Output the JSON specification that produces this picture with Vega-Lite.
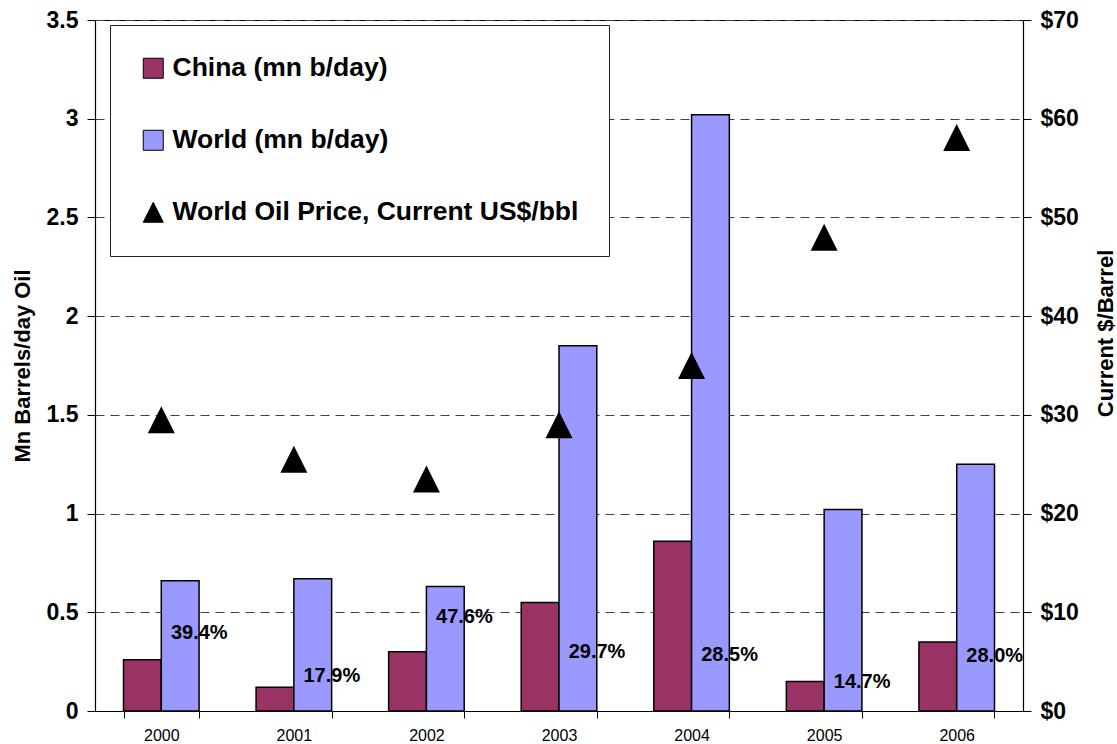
{
  "$schema": "https://vega.github.io/schema/vega-lite/v6.json",
  "width": 928,
  "height": 691,
  "autosize": {"type": "none"},
  "padding": {"left": 95, "top": 20, "right": 94, "bottom": 33},
  "config": {
    "font": "Liberation Sans",
    "view": {"stroke": "black", "strokeWidth": 1},
    "axis": {"domainColor": "black", "tickColor": "black", "labelColor": "black", "titleColor": "black", "domainWidth": 1.2, "tickWidth": 1},
    "legend": {
      "orient": "none",
      "legendX": 15,
      "legendY": 5,
      "fillColor": "white",
      "strokeColor": "#222",
      "strokeWidth": 1,
      "padding": 30,
      "rowPadding": 45,
      "labelFontSize": 26.5,
      "labelFontWeight": "bold",
      "labelColor": "black",
      "labelOffset": 6,
      "labelLimit": 600,
      "symbolSize": 400,
      "symbolStrokeColor": "black",
      "symbolStrokeWidth": 1,
      "title": null
    }
  },
  "layer": [
    {
      "layer": [
        {
          "data": {"values": [
            {"year": "2000", "series": "China (mn b/day)", "value": 0.26},
            {"year": "2000", "series": "World (mn b/day)", "value": 0.66},
            {"year": "2001", "series": "China (mn b/day)", "value": 0.12},
            {"year": "2001", "series": "World (mn b/day)", "value": 0.67},
            {"year": "2002", "series": "China (mn b/day)", "value": 0.30},
            {"year": "2002", "series": "World (mn b/day)", "value": 0.63},
            {"year": "2003", "series": "China (mn b/day)", "value": 0.55},
            {"year": "2003", "series": "World (mn b/day)", "value": 1.85},
            {"year": "2004", "series": "China (mn b/day)", "value": 0.86},
            {"year": "2004", "series": "World (mn b/day)", "value": 3.02},
            {"year": "2005", "series": "China (mn b/day)", "value": 0.15},
            {"year": "2005", "series": "World (mn b/day)", "value": 1.02},
            {"year": "2006", "series": "China (mn b/day)", "value": 0.35},
            {"year": "2006", "series": "World (mn b/day)", "value": 1.25}
          ]},
          "mark": {"type": "bar", "stroke": "black", "strokeWidth": 1.5},
          "encoding": {
            "x": {
              "field": "year", "type": "nominal", "title": null,
              "scale": {"paddingInner": 0.43, "paddingOuter": 0.215},
              "axis": {"labelAngle": 0, "labelFontSize": 16, "labelPadding": 9, "tickBand": "extent", "tickSize": 7, "domain": true}
            },
            "xOffset": {"field": "series", "type": "nominal", "scale": {"domain": ["China (mn b/day)", "World (mn b/day)"], "paddingInner": 0, "paddingOuter": 0}},
            "y": {
              "field": "value", "type": "quantitative",
              "scale": {"domain": [0, 3.5], "nice": false},
              "axis": {
                "orient": "left",
                "title": "Mn Barrels/day Oil",
                "titleFontSize": 22,
                "titleFontWeight": "bold",
                "titlePadding": 12,
                "values": [0, 0.5, 1, 1.5, 2, 2.5, 3, 3.5],
                "format": "~g",
                "labelFontSize": 23,
                "labelFontWeight": "bold",
                "labelPadding": 9,
                "tickSize": 8,
                "grid": true,
                "gridColor": "#404040",
                "gridDash": [9, 6],
                "gridWidth": 1
              }
            },
            "color": {
              "field": "series", "type": "nominal",
              "scale": {"domain": ["China (mn b/day)", "World (mn b/day)", "World Oil Price, Current US$/bbl"], "range": ["#993366", "#9999FF", "#000000"]}
            }
          }
        },
        {
          "data": {"values": [
            {"year": "2000", "label": "39.4%", "share": 0.394},
            {"year": "2001", "label": "17.9%", "share": 0.179},
            {"year": "2002", "label": "47.6%", "share": 0.476},
            {"year": "2003", "label": "29.7%", "share": 0.297},
            {"year": "2004", "label": "28.5%", "share": 0.285},
            {"year": "2005", "label": "14.7%", "share": 0.147},
            {"year": "2006", "label": "28.0%", "share": 0.280}
          ]},
          "mark": {"type": "text", "dx": 38, "align": "center", "baseline": "middle", "fontSize": 20, "fontWeight": "bold", "color": "black"},
          "encoding": {
            "x": {"field": "year", "type": "nominal"},
            "y": {"field": "share", "type": "quantitative", "scale": {"domain": [0, 3.5], "nice": false}},
            "text": {"field": "label"}
          }
        }
      ]
    },
    {
      "data": {"values": [
        {"year": "2000", "series": "World Oil Price, Current US$/bbl", "price": 29.5},
        {"year": "2001", "series": "World Oil Price, Current US$/bbl", "price": 25.5},
        {"year": "2002", "series": "World Oil Price, Current US$/bbl", "price": 23.5},
        {"year": "2003", "series": "World Oil Price, Current US$/bbl", "price": 29.0},
        {"year": "2004", "series": "World Oil Price, Current US$/bbl", "price": 35.0},
        {"year": "2005", "series": "World Oil Price, Current US$/bbl", "price": 48.0},
        {"year": "2006", "series": "World Oil Price, Current US$/bbl", "price": 58.1}
      ]},
      "mark": {"type": "point", "filled": true, "size": 729, "opacity": 1},
      "encoding": {
        "x": {"field": "year", "type": "nominal"},
        "y": {
          "field": "price", "type": "quantitative",
          "scale": {"domain": [0, 70], "nice": false},
          "axis": {
            "orient": "right",
            "title": "Current $/Barrel",
            "titleFontSize": 22,
            "titleFontWeight": "bold",
            "titleAngle": 270,
            "titleBaseline": "middle",
            "titleAlign": "center",
            "titleX": 82,
            "titleY": 313,
            "values": [0, 10, 20, 30, 40, 50, 60, 70],
            "labelExpr": "'$' + datum.value",
            "labelFontSize": 23,
            "labelFontWeight": "bold",
            "labelPadding": 9,
            "tickSize": 8,
            "grid": false
          }
        },
        "color": {
          "field": "series", "type": "nominal",
          "scale": {"domain": ["China (mn b/day)", "World (mn b/day)", "World Oil Price, Current US$/bbl"], "range": ["#993366", "#9999FF", "#000000"]}
        },
        "shape": {
          "field": "series", "type": "nominal",
          "scale": {"domain": ["China (mn b/day)", "World (mn b/day)", "World Oil Price, Current US$/bbl"], "range": ["square", "square", "M0,-1L1,1L-1,1Z"]}
        }
      }
    }
  ],
  "resolve": {"scale": {"y": "independent"}}
}
